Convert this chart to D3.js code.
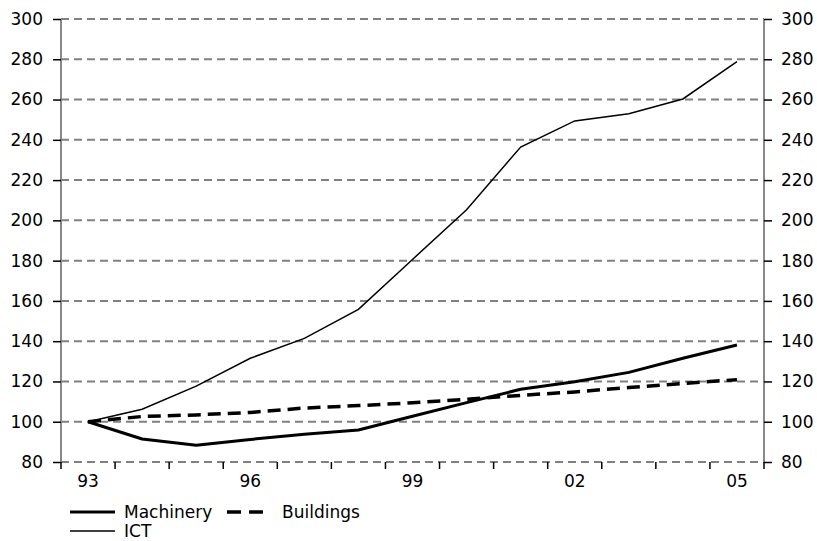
<!DOCTYPE html>
<html><head><meta charset="utf-8">
<script src="https://cdn.jsdelivr.net/npm/d3@7"></script>
<style>body{margin:0;background:#fff}svg{display:block}text{font-family:"DejaVu Sans",Verdana,sans-serif;fill:#000}</style>
</head><body><svg id="c" width="817" height="541"></svg>
<script>
const years = ["93","94","95","96","97","98","99","00","01","02","03","04","05"];
const tickLabels = ["93","96","99","02","05"];
const machinery = [100,91.4,88.3,91.2,93.8,95.9,102.7,109.5,116.1,119.9,124.5,131.5,138.1];
const buildings = [100,102.6,103.4,104.6,106.8,108.0,109.4,111.1,113.1,114.8,117.0,119.0,120.9];
const ict = [100,106.2,117.7,131.5,141.4,155.8,180.6,205.3,236.4,249.4,253.0,260.3,278.8];
const yTicks = [80,100,120,140,160,180,200,220,240,260,280,300];

const svg = d3.select("#c");
const L = 61, R = 764, T = 19, B = 462;
const x = d3.scaleBand().domain(years).range([L, R]).padding(0);
const y = d3.scaleLinear().domain([80, 300]).range([B, T]);
const cx = d => x(d) + x.bandwidth() / 2;
const FS = "17px";

// gridlines
svg.append("g").selectAll("line").data(yTicks).join("line")
  .attr("x1", L).attr("x2", R).attr("y1", d => y(d)).attr("y2", d => y(d))
  .attr("stroke", "#808080").attr("stroke-width", 2).attr("stroke-dasharray", "8,5");

// axes lines
svg.append("line").attr("x1", L).attr("x2", L).attr("y1", T).attr("y2", B).attr("stroke", "#888").attr("stroke-width", 2);
svg.append("line").attr("x1", R).attr("x2", R).attr("y1", T).attr("y2", B).attr("stroke", "#888").attr("stroke-width", 2);

// left axis
const la = svg.append("g").attr("transform", `translate(${L},0)`)
  .call(d3.axisLeft(y).tickValues(yTicks).tickSize(8).tickPadding(10).tickFormat(d3.format("d")));
la.select(".domain").remove();
la.selectAll("line").attr("stroke", "#000").attr("stroke-width", 1.5);
la.selectAll("text").style("font-size", FS).attr("fill", "#000");
// right axis
const ra = svg.append("g").attr("transform", `translate(${R},0)`)
  .call(d3.axisRight(y).tickValues(yTicks).tickSize(8).tickPadding(9).tickFormat(d3.format("d")));
ra.select(".domain").remove();
ra.selectAll("line").attr("stroke", "#000").attr("stroke-width", 1.5);
ra.selectAll("text").style("font-size", FS).attr("fill", "#000");

// x axis ticks at band boundaries
const bounds = years.map(d => x(d)).concat([R]);
svg.append("g").selectAll("line").data(bounds).join("line")
  .attr("x1", d => d).attr("x2", d => d).attr("y1", B).attr("y2", B + 7)
  .attr("stroke", "#000").attr("stroke-width", 1.5);
svg.append("g").selectAll("text").data(tickLabels).join("text")
  .attr("x", d => cx(d)).attr("y", B + 25).attr("text-anchor", "middle")
  .style("font-size", FS).text(d => d);

// lines
const line = d3.line().x((d, i) => cx(years[i])).y(d => y(d));
svg.append("path").datum(ict).attr("d", line).attr("fill", "none").attr("stroke", "#000").attr("stroke-width", 1.5);
svg.append("path").datum(buildings).attr("d", line).attr("fill", "none").attr("stroke", "#000").attr("stroke-width", 3.5).attr("stroke-dasharray", "13,7");
svg.append("path").datum(machinery).attr("d", line).attr("fill", "none").attr("stroke", "#000").attr("stroke-width", 3).attr("stroke-linejoin", "round");

// legend
const legend = [
  {name: "Machinery", x: 70, y: 512, w: 3, dash: null, len: 45},
  {name: "Buildings", x: 227, y: 512, w: 3.5, dash: "14,8", len: 40},
  {name: "ICT", x: 70, y: 531, w: 1.5, dash: null, len: 45}
];
const lg = svg.append("g").selectAll("g").data(legend).join("g");
lg.append("line").attr("x1", d => d.x).attr("x2", d => d.x + d.len).attr("y1", d => d.y).attr("y2", d => d.y)
  .attr("stroke", "#000").attr("stroke-width", d => d.w).attr("stroke-dasharray", d => d.dash);
lg.append("text").attr("x", d => d.x + (d.len === 40 ? 55 : 54)).attr("y", d => d.y + 6).style("font-size", FS).text(d => d.name);
</script></body></html>
